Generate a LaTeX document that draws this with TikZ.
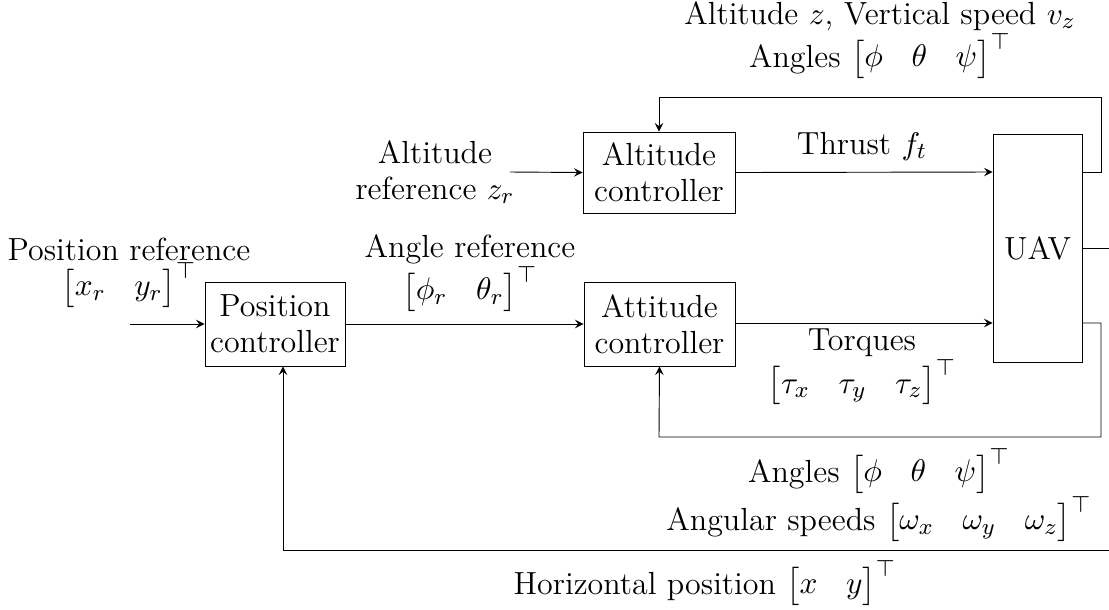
\documentclass[tikz,border=0pt]{standalone}
\usepackage{amsmath,amssymb}
\begin{document}
\begin{tikzpicture}[x=0.35pt,y=-0.35pt, >=stealth, line width=0.32pt,
  every node/.style={font=\fontsize{11.2}{12.6}\selectfont},
  block/.style={draw, align=center, inner sep=0pt},
  lbl/.style={align=center, inner sep=0pt},
  sig/.style={->},
  wire/.style={-}]
\useasboundingbox (0,0) rectangle (1109,609);
\clip (0,0) rectangle (1109,609);
% blocks
\node[block, minimum width=49pt, minimum height=29.4pt] (pos) at (275,324) {Position\\controller};
\node[block, minimum width=52.85pt, minimum height=29.4pt] (att) at (659.5,324) {Attitude\\controller};
\node[block, minimum width=53.2pt, minimum height=28.35pt] (alt) at (659,172.5) {Altitude\\controller};
\node[block, minimum width=31.15pt, minimum height=79.8pt] (uav) at (1037.5,248) {UAV};
% coordinates
\coordinate (posin) at (130,324);
\coordinate (altin) at (510,172);
\coordinate (uavT) at (uav.west |- 0,172);
\coordinate (uavB) at (uav.west |- 0,323);
\coordinate (uavTo) at (uav.east |- 0,172);
\coordinate (uavBo) at (uav.east |- 0,323);
\coordinate (t1) at (1101,172);
\coordinate (t2) at (1101,97);
\coordinate (t3) at (659,97);
\coordinate (b1) at (1101,323);
\coordinate (b2) at (1101,437);
\coordinate (b3) at (659,437);
\coordinate (mid) at (1115,248);
\coordinate (h1) at (1115,550);
\coordinate (h2) at (283,550);
% connectors
\draw[sig] (posin) -- (pos.west);
\draw[sig] (altin) -- (alt.west);
\draw[sig] (pos.east) -- (att.west);
\draw[sig] (alt.east) -- (uavT);
\draw[sig] (att.east |- uavB) -- (uavB);
\draw[sig] (uavTo) -- (t1) -- (t2) -- (t3) -- (alt.north);
\draw[sig] (uavBo) -- (b1) -- (b2) -- (b3) -- (att.south);
\draw[wire] (uav.east |- mid) -- (mid);
\draw[sig] (h1) -- (h2) -- (h2 |- pos.south);
% labels
\node[lbl] (lposref) at (129,273) {Position reference\\$\begin{bmatrix} x_r & y_r\end{bmatrix}^\top$};
\node[lbl] (laltref) at (435,172) {Altitude\\reference $z_r$};
\node[lbl] (langref) at (470,273) {Angle reference\\$\begin{bmatrix} \phi_r & \theta_r\end{bmatrix}^\top$};
\node[lbl] (lthrust) at (862,146) {Thrust $f_t$};
\node[lbl] (ltorq) at (862,367) {Torques\\$\begin{bmatrix} \tau_x & \tau_y & \tau_z\end{bmatrix}^\top$};
\node[lbl] (ltop) at (880,40) {Altitude $z$, Vertical speed $v_z$\\Angles $\begin{bmatrix} \phi & \theta & \psi\end{bmatrix}^\top$};
\node[lbl] (lang) at (879,495) {Angles $\begin{bmatrix} \phi & \theta & \psi\end{bmatrix}^\top$\\Angular speeds $\begin{bmatrix} \omega_x & \omega_y & \omega_z\end{bmatrix}^\top$};
\node[lbl] (lhor) at (705,583) {Horizontal position $\begin{bmatrix} x & y\end{bmatrix}^\top$};
\end{tikzpicture}
\end{document}
